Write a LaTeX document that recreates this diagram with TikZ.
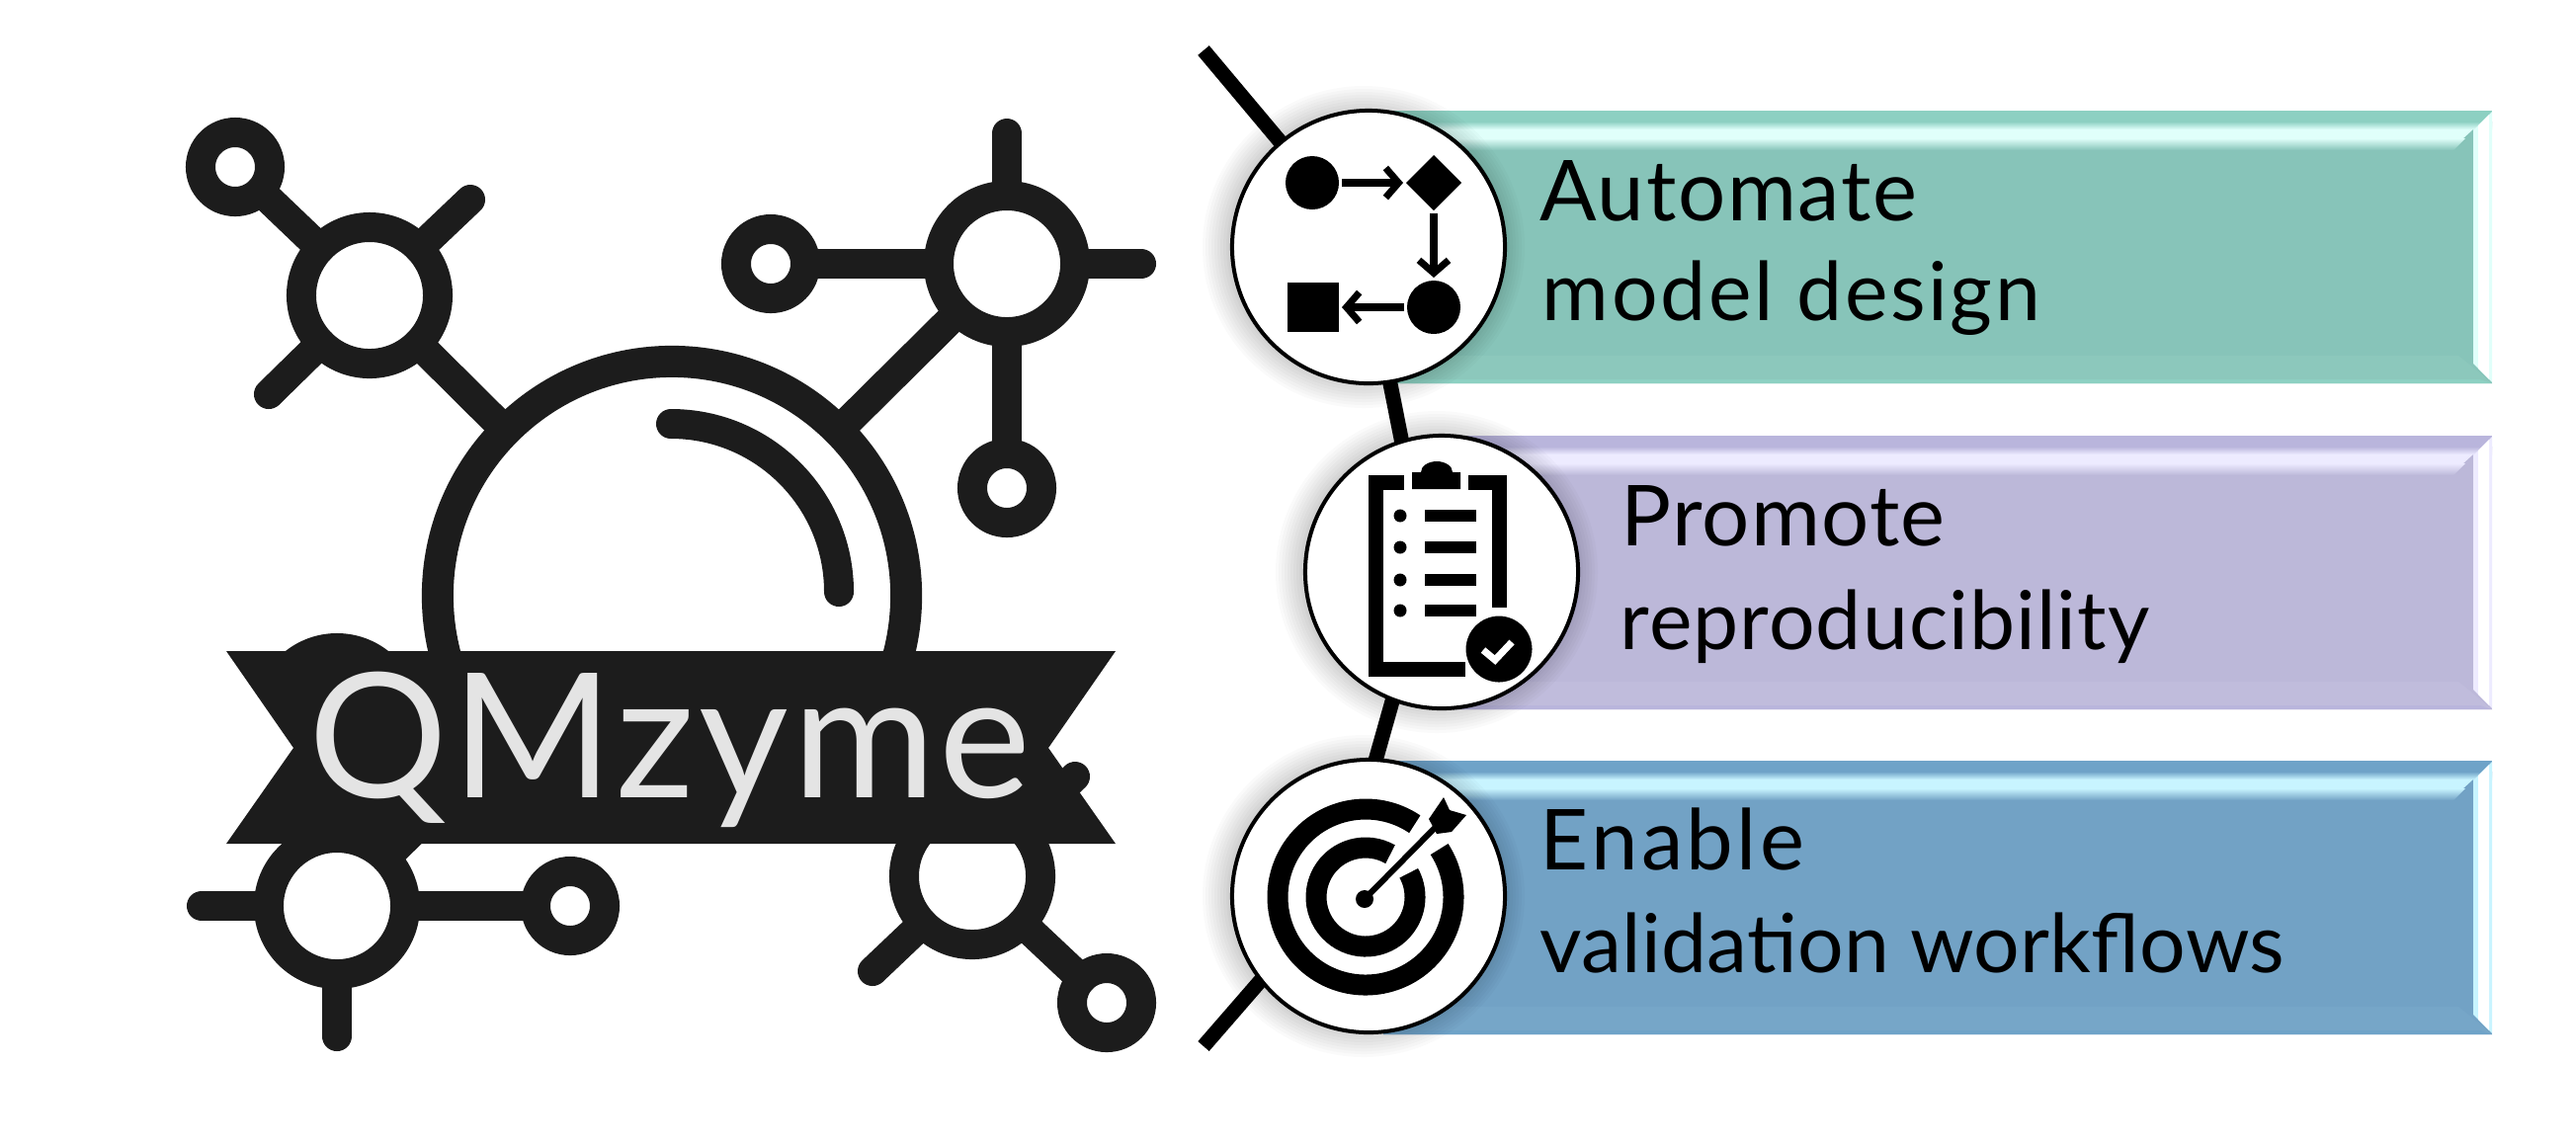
\documentclass[tikz,border=0pt]{standalone}
\usepackage{fontspec}
\setmainfont{Lato}
\usetikzlibrary{arrows.meta,backgrounds,shapes.geometric}
\definecolor{ink}{HTML}{1C1C1C}
\definecolor{logotext}{HTML}{E4E4E4}
\definecolor{teal0}{HTML}{87C4B9}\definecolor{teal1}{HTML}{8DD0C2}\definecolor{teal2}{HTML}{E0FFFA}\definecolor{teal3}{HTML}{8CC8BC}
\definecolor{pur0}{HTML}{BCB8D9}\definecolor{pur1}{HTML}{B9B5DC}\definecolor{pur2}{HTML}{EDEBFF}\definecolor{pur3}{HTML}{C0BCDC}
\definecolor{blu0}{HTML}{72A2C5}\definecolor{blu1}{HTML}{6FA3C8}\definecolor{blu2}{HTML}{C8F4FF}\definecolor{blu3}{HTML}{76A6C8}
\def\px{0.2845pt}
\newcommand\lsp[2]{{\addfontfeature{LetterSpace=#1}#2}}
\newcommand\bevelbar[7]{% x0,y0,y1,base,edge,light,bottom
  \fill[#4] (#1,#2) rectangle (2522,#3);
  \fill[#5] (#1,#2) rectangle (2522,#2+11);
  \shade[top color=#5,bottom color=#6] (#1,#2+11) rectangle (2522,#2+19);
  \fill[#6] (#1,#2+19) rectangle (2510,#2+28);
  \fill[#4] (2480,#2+40) -- (2503,#2+19) -- (2503,#2+40) -- cycle;
  \shade[top color=#6,bottom color=#4] (#1,#2+28) -- (2495,#2+28) -- (2483,#2+40) -- (#1,#2+40) -- cycle;
  \fill[#7] (#1,#3-28) -- (2488,#3-28) -- (2503,#3-16) -- (2522,#3) -- (#1,#3) -- cycle;
  \fill[#5] (#1,#3-4) -- (2510,#3-4) -- (2522,#3) -- (#1,#3) -- cycle;
  \fill[#6] (2503,#2+20) -- (2522,#2+1) -- (2522,#3-1) -- (2503,#3-20) -- cycle;
  \fill[white] (2508,#2+15) -- (2519,#2+4) -- (2519,#3-4) -- (2508,#3-15) -- cycle;
}
\newcommand\glow[2]{%
  \foreach \r in {139,142,...,163}{\fill[black,opacity=0.018] (#1-5,#2) circle[radius=\r];}
}
\tikzset{
  ringbig/.style={circle,draw=ink,fill=white,line width=30*\px,minimum size=138*\px,inner sep=0pt,outer sep=0pt},
  ringsmall/.style={circle,draw=ink,fill=white,line width=30*\px,minimum size=70*\px,inner sep=0pt,outer sep=0pt},
  bond/.style={draw=ink,line width=30*\px,line cap=round},
  hub/.style={circle,draw=black,fill=white,line width=4*\px,minimum size=276*\px,inner sep=0pt,outer sep=0pt},
  spine/.style={draw=black,line width=15*\px},
  lead/.style={anchor=base west,font=\fontsize{24.2}{28}\selectfont,text=black,inner sep=0pt},
  sub/.style={anchor=base west,font=\fontsize{23.4}{28}\selectfont,text=black,inner sep=0pt},
  shp/.style={fill=black,inner sep=0pt,outer sep=0pt},
  flow/.style={draw=black,line width=8*\px,shorten >=3*\px,shorten <=3*\px,-{Straight Barb[length=13*\px,width=30*\px,line width=7*\px]}},
  icn/.style={draw=black,line width=15*\px},
  tgt/.style={draw=black,line width=21*\px},
}
\begin{document}
\begin{tikzpicture}[x=0.01cm,y=-0.01cm]
\useasboundingbox (0,0) rectangle (2607,1159);
% hubs
\node[hub] (c1) at (1385,250) {};
\node[hub] (c2) at (1459,579) {};
\node[hub] (c3) at (1385,907) {};
\coordinate (tl) at (1218,51);
\coordinate (bl) at (1218,1059);
\begin{scope}[on background layer]
  \fill[white] (0,0) rectangle (2607,1159);
  \bevelbar{1400}{112}{388}{teal0}{teal1}{teal2}{teal3}
  \bevelbar{1470}{441}{718}{pur0}{pur1}{pur2}{pur3}
  \bevelbar{1400}{770}{1047}{blu0}{blu1}{blu2}{blu3}
  \glow{1385}{250}\glow{1459}{579}\glow{1385}{907}
  \draw[spine] (tl) -- (c1);
  \draw[spine] (c1.-81) -- (c2.107);
  \draw[spine] (c2.249) -- (c3.87);
  \draw[spine] (c3.218) -- (bl);
\end{scope}
% icon 1
\node[shp,circle,minimum size=54*\px] (f1) at (1328,185) {};
\node[shp,diamond,minimum size=56*\px] (f2) at (1451,185) {};
\node[shp,circle,minimum size=54*\px] (f3) at (1451,311) {};
\node[shp,rectangle,minimum width=52*\px,minimum height=50*\px] (f4) at (1329,311) {};
\draw[flow] (f1) -- (f2);
\draw[flow] (f2) -- (f3);
\draw[flow] (f3) -- (f4);
% icon 2
\draw[icn,miter limit=10] (1421,488) -- (1392,488) -- (1392,677) -- (1483,677);
\draw[icn] (1486,488) -- (1517,488) -- (1517,615);
\fill[black] (1429,495) -- (1429,478) -- (1438,478) arc[start angle=180,end angle=360,x radius=16,y radius=11] -- (1478,478) -- (1478,495) -- cycle;
\foreach \yy in {522,554,587,618}{
  \fill[black] (1417,\yy) circle[radius=6.5];
  \fill[black] (1442,\yy-6) rectangle (1494,\yy+6);
}
\node[circle,fill=black,draw=white,line width=3*\px,minimum size=70*\px,inner sep=0pt,outer sep=0pt] (badge) at (1517,657) {};
\draw[white,line width=7*\px] (1501,658) -- (1513,668) -- (1530,650);
% icon 3
\draw[tgt] ([shift={(-56:89)}]1382,908) arc[start angle=-56,end angle=-393,radius=89];
\draw[tgt] ([shift={(-60:50)}]1382,908) arc[start angle=-60,end angle=-389,radius=50];
\fill[black] (1381,910) circle[radius=9];
\draw[black,line width=6*\px] (1381,910) -- (1452,838);
\fill[black] (1446,829) -- (1461,807) -- (1467,820) -- (1484,825) -- (1469,842) -- (1454,844) -- cycle;
% bar labels
\node[lead] (t1) at (1558,223) {\lsp{2}{Automate}};
\node[sub] (t2) at (1560,324) {\lsp{3.2}{model design}};
\node[lead] (t3) at (1640,552) {\lsp{1.4}{Promote}};
\node[sub] (t4) at (1639,657) {\lsp{1.3}{reproducibility}};
\node[lead] (t5) at (1558,880) {\lsp{4}{Enable}};
\node[sub] (t6) at (1558,984) {\lsp{0.3}{validation workflows}};
% logo
\begin{scope}
\clip (0,0) rectangle (1300,700);
\node[circle,draw=ink,line width=32*\px,minimum size=474*\px,inner sep=0pt,outer sep=0pt] (big) at (680,603) {};
\node[ringbig] (r5) at (341,725) {};
\end{scope}
\draw[ink,line width=30*\px,line cap=round] (679,429) arc[start angle=-90,end angle=0,radius=170];
\node[ringbig] (r1) at (374,299) {};
\node[ringsmall] (s1) at (238,169) {};
\coordinate (e1) at (476,202);
\coordinate (e2) at (272,399);
\draw[bond] (s1) -- (r1);
\draw[bond] (r1) -- (big);
\draw[bond] (r1) -- (e1);
\draw[bond] (r1) -- (e2);
\node[ringbig] (r2) at (1019,267) {};
\node[ringsmall] (s2) at (780,267) {};
\node[ringsmall] (s3) at (1019,494) {};
\coordinate (e3) at (1019,135);
\coordinate (e4) at (1155,267);
\draw[bond] (r2) -- (s2);
\draw[bond] (r2) -- (s3);
\draw[bond] (r2) -- (big);
\draw[bond] (r2) -- (e3);
\draw[bond] (r2) -- (e4);
\node[ringbig] (r3) at (341,917) {};
\node[ringsmall] (s4) at (577,917) {};
\coordinate (e5) at (204,917);
\coordinate (e6) at (341,1049);
\coordinate (e7) at (450,810);
\draw[bond] (r3) -- (s4);
\draw[bond] (r3) -- (e5);
\draw[bond] (r3) -- (e6);
\draw[bond] (r3) -- (e7);
\node[ringbig] (r4) at (984,887) {};
\node[ringsmall] (s5) at (1120,1015) {};
\coordinate (e8) at (883,983);
\coordinate (e9) at (1088,786);
\draw[bond] (r4) -- (s5);
\draw[bond] (r4) -- (e8);
\draw[bond] (r4) -- (e9);
\fill[ink] (229,659) -- (1129,659) -- (1061,757) -- (1129,854) -- (229,854) -- (297,757) -- cycle;
\node[anchor=base west,inner sep=0pt,text=logotext,font=\fontsize{50}{60}\selectfont] (qm) at (312,807) {\lsp{2.4}{QMzyme}};
\end{tikzpicture}
\end{document}
